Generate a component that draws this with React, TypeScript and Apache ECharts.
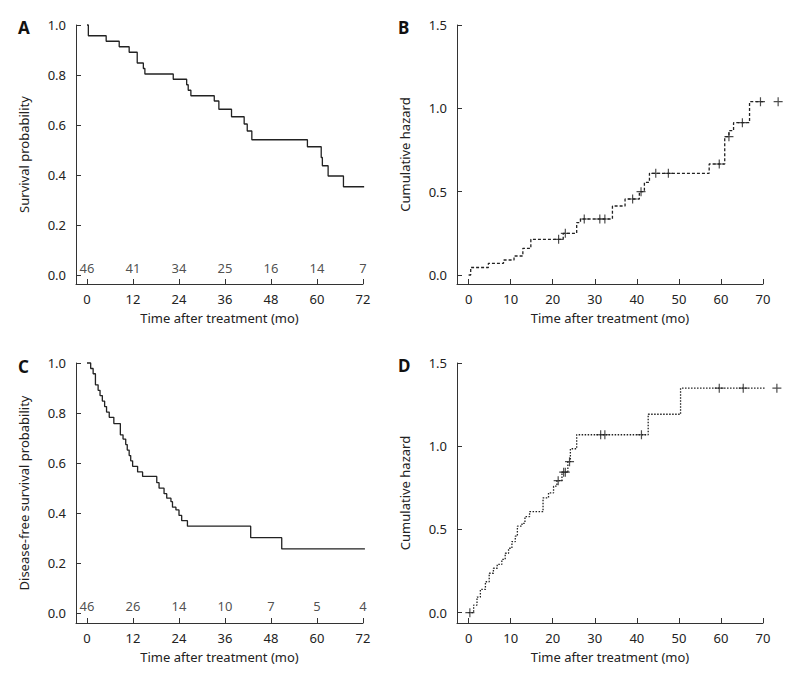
import React, { useEffect, useRef } from "react";
import * as echarts from "echarts";

// Tick labels
const monthTicks12 = [0, 12, 24, 36, 48, 60, 72];
const monthTicks10 = [0, 10, 20, 30, 40, 50, 60, 70];
const survTicks = [0, 0.2, 0.4, 0.6, 0.8, 1.0];
const hazardTicks = [0, 0.5, 1.0, 1.5];

// Panel A: overall survival (Kaplan-Meier), value after each event time
const osTimes = [0, 0.35, 5.0, 8.4, 11.0, 13.1, 14.7, 15.1, 22.5, 26.0, 26.4, 27.1, 33.2, 34.4, 37.7, 41.0, 41.8, 43.0, 57.5, 61.1, 61.4, 62.9, 66.9, 72.3];
const osSurv = [1.0, 0.957, 0.935, 0.913, 0.891, 0.848, 0.826, 0.804, 0.783, 0.761, 0.739, 0.717, 0.696, 0.663, 0.633, 0.604, 0.576, 0.541, 0.513, 0.47, 0.437, 0.396, 0.353, 0.353];
const osAtRisk = [46, 41, 34, 25, 16, 14, 7];

// Panel B: cumulative hazard (overall)
const osHazTimes = [0, 0.5, 4.7, 8.3, 10.8, 12.9, 14.8, 22.5, 25.7, 26.6, 34.2, 37.2, 40.6, 41.8, 43.0, 57.2, 60.9, 61.9, 63.0, 66.8, 74.6];
const osHazVals = [0, 0.045, 0.07, 0.09, 0.114, 0.16, 0.214, 0.25, 0.314, 0.336, 0.414, 0.456, 0.5, 0.556, 0.61, 0.666, 0.83, 0.866, 0.914, 1.04, 1.04];
const osCensorTimes = [21.4, 23.0, 27.5, 31.2, 32.4, 39.0, 41.0, 44.5, 47.5, 59.6, 61.9, 65.1, 69.4, 73.6];
const osCensorVals = [0.214, 0.25, 0.336, 0.336, 0.336, 0.456, 0.5, 0.61, 0.61, 0.666, 0.83, 0.914, 1.04, 1.04];

// Panel C: disease-free survival
const dfsTimes = [0, 0.96, 1.6, 2.2, 2.9, 3.4, 4.0, 4.6, 5.1, 5.8, 7.0, 8.7, 9.4, 10.1, 10.5, 11.0, 11.4, 11.9, 13.2, 14.5, 18.2, 18.8, 20.1, 20.8, 21.9, 22.3, 23.2, 24.0, 24.7, 26.2, 42.7, 50.8, 72.5];
const dfsSurv = [1.0, 0.978, 0.957, 0.913, 0.891, 0.87, 0.848, 0.826, 0.804, 0.783, 0.758, 0.713, 0.696, 0.674, 0.652, 0.63, 0.609, 0.587, 0.565, 0.547, 0.522, 0.5, 0.478, 0.46, 0.446, 0.424, 0.413, 0.391, 0.37, 0.348, 0.302, 0.257, 0.257];
const dfsAtRisk = [46, 26, 14, 10, 7, 5, 4];

// Panel D: cumulative hazard (disease-free)
const dfsHazTimes = [0, 1.2, 2.0, 2.8, 4.0, 4.9, 5.9, 6.8, 7.9, 8.7, 9.5, 10.3, 11.1, 11.6, 12.7, 13.4, 14.5, 17.7, 19.0, 20.2, 21.0, 22.2, 23.6, 24.2, 25.7, 42.7, 50.4, 74.0];
const dfsHazVals = [0, 0.046, 0.094, 0.14, 0.186, 0.237, 0.267, 0.29, 0.32, 0.357, 0.387, 0.427, 0.46, 0.52, 0.537, 0.577, 0.607, 0.69, 0.72, 0.76, 0.793, 0.844, 0.907, 0.985, 1.069, 1.192, 1.349, 1.349];
const dfsCensorTimes = [0.3, 21.3, 22.6, 23.0, 24.0, 31.4, 32.4, 41.1, 59.6, 65.3, 73.3];
const dfsCensorVals = [0, 0.793, 0.844, 0.844, 0.907, 1.069, 1.069, 1.069, 1.349, 1.349, 1.349];

const FONT = "'Noto Sans', 'DejaVu Sans', sans-serif";
const INK = "#222";
const AXIS = "#333";
const CROSS = "path://M0,5L10,5M5,0L5,10";

const zip = (a: number[], b: number[]) => a.map((t, i) => [t, b[i]]);

function makeXAxis(grid: number, min: number, max: number, ticks: number[]) {
  return {
    type: "value",
    gridIndex: grid,
    min,
    max,
    axisLine: { show: true, onZero: false, lineStyle: { color: AXIS, width: 1 } },
    axisTick: { show: true, inside: true, length: 5, customValues: ticks, lineStyle: { color: AXIS } },
    axisLabel: { customValues: ticks, margin: 8, fontSize: 13, color: INK, fontFamily: FONT },
    splitLine: { show: false },
    name: "Time after treatment (mo)",
    nameLocation: "middle",
    nameGap: 27,
    nameTextStyle: { fontSize: 13, color: INK, fontFamily: FONT },
  };
}

function makeYAxis(grid: number, min: number, max: number, ticks: number[], name: string) {
  return {
    type: "value",
    gridIndex: grid,
    min,
    max,
    axisLine: { show: true, onZero: false, lineStyle: { color: AXIS, width: 1 } },
    axisTick: { show: true, inside: true, length: 5, customValues: ticks, lineStyle: { color: AXIS } },
    axisLabel: {
      customValues: ticks,
      margin: 10,
      fontSize: 13,
      color: INK,
      fontFamily: FONT,
      formatter: (v: number) => v.toFixed(1),
    },
    splitLine: { show: false },
    name,
    nameLocation: "middle",
    nameGap: 46,
    nameTextStyle: { fontSize: 13, color: INK, fontFamily: FONT },
  };
}

function stepSeries(idx: number, times: number[], vals: number[], type: any) {
  return {
    type: "line",
    xAxisIndex: idx,
    yAxisIndex: idx,
    step: "end",
    showSymbol: false,
    clip: false,
    data: zip(times, vals),
    lineStyle: { color: INK, width: 1.3, type },
    silent: true,
  };
}

function censorSeries(idx: number, times: number[], vals: number[]) {
  return {
    type: "scatter",
    xAxisIndex: idx,
    yAxisIndex: idx,
    symbol: CROSS,
    symbolSize: 9,
    clip: false,
    data: zip(times, vals),
    itemStyle: { color: "transparent", borderColor: INK, borderWidth: 1.2 },
    silent: true,
  };
}

function riskSeries(idx: number, times: number[], counts: number[]) {
  return {
    type: "scatter",
    xAxisIndex: idx,
    yAxisIndex: idx,
    symbolSize: 1,
    itemStyle: { color: "rgba(255,255,255,0)" },
    data: times.map((t, i) => [t, 0.03, counts[i]]),
    label: {
      show: true,
      position: "inside",
      formatter: (p: any) => String(p.data[2]),
      fontSize: 13,
      color: INK,
      textBorderWidth: 0,
      fontFamily: FONT,
    },
    emphasis: { disabled: true },
    silent: true,
  };
}

export default function App() {
  const ref = useRef<HTMLDivElement>(null);
  useEffect(() => {
    document.body.style.margin = "0";
    const chart = echarts.init(ref.current!, null, { renderer: "svg" });
    const letter = (text: string, left: number, top: number) => ({
      text,
      left,
      top,
      padding: 0,
      textStyle: { fontSize: 17, fontWeight: "bold", color: "#111", fontFamily: FONT },
    });
    chart.setOption({
      animation: false,
      backgroundColor: "#fff",
      title: [letter("A", 18, 19), letter("B", 398, 19), letter("C", 18, 358), letter("D", 398, 357)],
      grid: [
        { left: 76, top: 25, width: 287, height: 259 },
        { left: 457, top: 25, width: 306, height: 259 },
        { left: 76, top: 363, width: 287, height: 260 },
        { left: 457, top: 363, width: 306, height: 260 },
      ],
      xAxis: [
        makeXAxis(0, -2.87, 72, monthTicks12),
        makeXAxis(1, -2.758, 70, monthTicks10),
        makeXAxis(2, -2.87, 72, monthTicks12),
        makeXAxis(3, -2.758, 70, monthTicks10),
      ],
      yAxis: [
        makeYAxis(0, -0.036, 1.0, survTicks, "Survival probability"),
        makeYAxis(1, -0.054, 1.5, hazardTicks, "Cumulative hazard"),
        makeYAxis(2, -0.0388, 1.0, survTicks, "Disease-free survival probability"),
        makeYAxis(3, -0.0619, 1.5, hazardTicks, "Cumulative hazard"),
      ],
      series: [
        stepSeries(0, osTimes, osSurv, "solid"),
        riskSeries(0, monthTicks12, osAtRisk),
        stepSeries(1, osHazTimes, osHazVals, [3, 2]),
        censorSeries(1, osCensorTimes, osCensorVals),
        stepSeries(2, dfsTimes, dfsSurv, "solid"),
        riskSeries(2, monthTicks12, dfsAtRisk),
        stepSeries(3, dfsHazTimes, dfsHazVals, [1.5, 1.5]),
        censorSeries(3, dfsCensorTimes, dfsCensorVals),
      ],
    });
    return () => chart.dispose();
  }, []);
  return <div ref={ref} style={{ width: 800, height: 678 }} />;
}
